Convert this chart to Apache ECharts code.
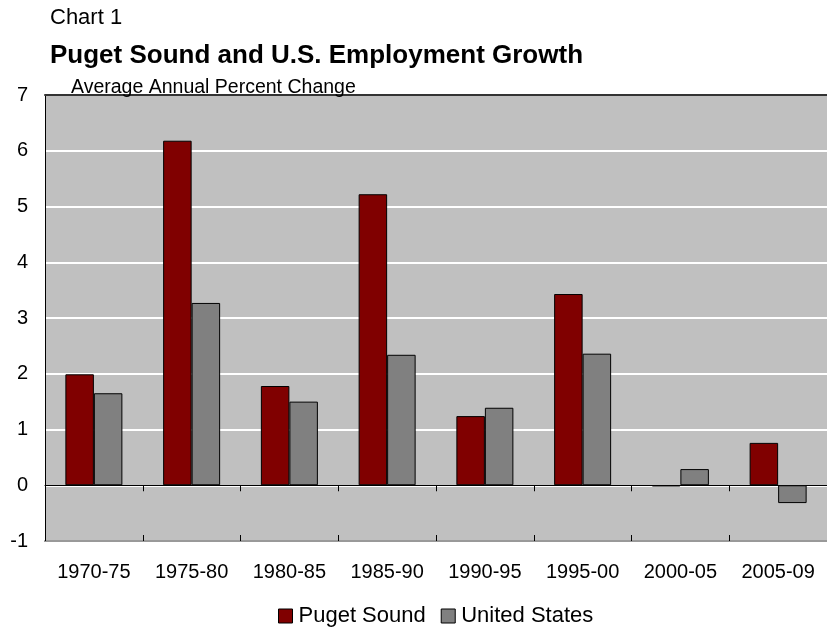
<!DOCTYPE html>
<html><head><meta charset="utf-8">
<script src="https://cdn.jsdelivr.net/npm/echarts@6/dist/echarts.min.js"></script>
<style>html,body{margin:0;padding:0;background:#fff}#c{width:827px;height:629px}</style>
</head><body><div id="c"></div>
<script>
var categories = ['1970-75','1975-80','1980-85','1985-90','1990-95','1995-00','2000-05','2005-09'];
var pugetSound = [1.99, 6.18, 1.78, 5.22, 1.24, 3.43, -0.02, 0.76];
var unitedStates = [1.65, 3.27, 1.50, 2.34, 1.39, 2.36, 0.29, -0.32];
var yTicks = [-1, 0, 1, 2, 3, 4, 5, 6, 7];

var font = '"Liberation Sans", Arial, sans-serif';
var chart = echarts.init(document.getElementById('c'));
chart.setOption({
  animation: false,
  textStyle: {fontFamily: font},
  title: [
    {text: 'Chart 1', left: 50, top: 7, padding: 0, textStyle: {fontSize: 22, fontWeight: 'normal', color: '#000', fontFamily: font}},
    {text: 'Puget Sound and U.S. Employment Growth', left: 50, top: 43, padding: 0, textStyle: {fontSize: 26, fontWeight: 'bold', color: '#000', fontFamily: font}},
    {text: 'Average Annual Percent Change', left: 71, top: 78, padding: 0, textStyle: {fontSize: 19.5, fontWeight: 'normal', color: '#000', fontFamily: font}}
  ],
  legend: {
    top: 605, left: 278, itemWidth: 14, itemHeight: 14, itemGap: 15, padding: 0,
    icon: 'rect',
    textStyle: {fontSize: 22, color: '#000', fontFamily: font, padding: [0, 0, 0, 1]},
    data: [
      {name: 'Puget Sound', itemStyle: {borderColor: '#000', borderWidth: 1}},
      {name: 'United States', itemStyle: {borderColor: '#000', borderWidth: 1}}
    ]
  },
  grid: {left: 45, top: 95, right: -4, bottom: 88, show: true, backgroundColor: '#c0c0c0', borderWidth: 0},
  xAxis: [
    {type: 'category', data: categories, position: 'bottom',
     axisLine: {onZero: true, lineStyle: {color: '#000', width: 1}},
     axisTick: {show: true, length: 6, inside: false, lineStyle: {color: '#000'}},
     axisLabel: {show: false}, splitLine: {show: false}},
    {type: 'category', data: categories, position: 'bottom',
     axisLine: {show: true, onZero: true, lineStyle: {color: '#000', width: 1}},
     axisTick: {show: true, length: 6, inside: true, lineStyle: {color: '#000'}},
     axisLabel: {show: false}, splitLine: {show: false}},
    {type: 'category', data: categories, position: 'bottom',
     axisLine: {show: true, onZero: false, lineStyle: {color: '#999', width: 2}},
     axisTick: {show: false},
     axisLabel: {show: true, fontSize: 20, color: '#000', margin: 21, fontFamily: font},
     splitLine: {show: false}},
    {type: 'category', data: categories, position: 'top',
     axisLine: {show: true, onZero: false, lineStyle: {color: '#333', width: 2}},
     axisTick: {show: false}, axisLabel: {show: false}, splitLine: {show: false}}
  ],
  yAxis: {
    type: 'value', min: yTicks[0], max: yTicks[yTicks.length - 1], interval: 1,
    axisLine: {show: true, lineStyle: {color: '#000', width: 1}},
    axisTick: {show: false},
    axisLabel: {fontSize: 20, color: '#000', margin: 17, fontFamily: font},
    splitLine: {show: true, lineStyle: {color: '#fff', width: 2}}
  },
  series: [
    {name: 'Puget Sound', type: 'bar', xAxisIndex: 0, data: pugetSound, barWidth: 28.5, barGap: '0%',
     itemStyle: {color: '#800000', borderColor: '#000', borderWidth: 1}},
    {name: 'United States', type: 'bar', xAxisIndex: 0, data: unitedStates, barWidth: 28.5, barGap: '0%',
     itemStyle: {color: '#808080', borderColor: '#000', borderWidth: 1}}
  ]
});
</script>
</body></html>
